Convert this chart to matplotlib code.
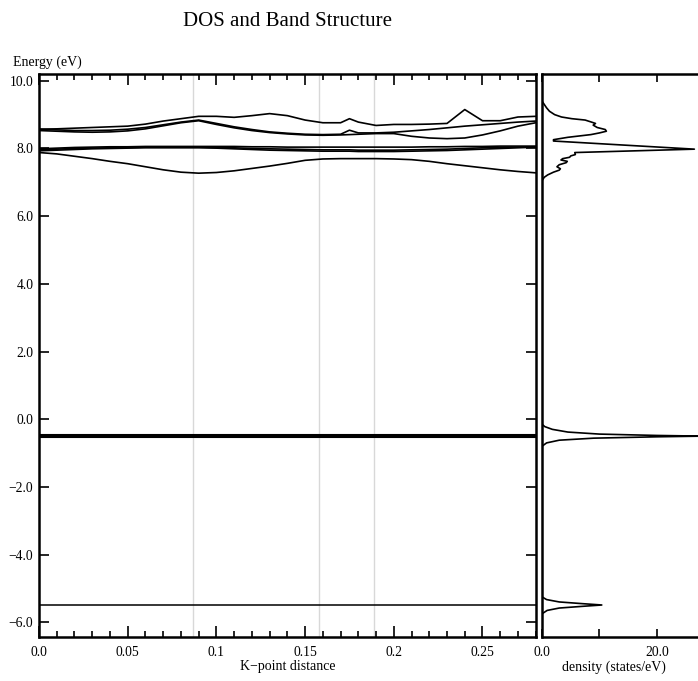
import matplotlib.pyplot as plt
import numpy as np

plt.rcParams['font.family'] = ['Liberation Serif', 'DejaVu Serif']

# k-point path (distance) and band energies in eV
k = [0.00, 0.01, 0.02, 0.03, 0.04, 0.05, 0.06, 0.07, 0.08, 0.09,
     0.10, 0.11, 0.12, 0.13, 0.14, 0.15, 0.16, 0.17, 0.175, 0.18,
     0.19, 0.20, 0.21, 0.22, 0.23, 0.24, 0.25, 0.26, 0.27, 0.28]

band_a = [8.57, 8.58, 8.60, 8.62, 8.64, 8.66, 8.72, 8.81, 8.88, 8.95,
          8.95, 8.92, 8.97, 9.03, 8.97, 8.84, 8.76, 8.76, 8.88, 8.78,
          8.68, 8.71, 8.71, 8.72, 8.74, 9.15, 8.82, 8.82, 8.93, 8.95]
band_b = [8.57, 8.55, 8.53, 8.53, 8.54, 8.57, 8.62, 8.70, 8.78, 8.84,
          8.74, 8.64, 8.56, 8.49, 8.45, 8.42, 8.41, 8.42, 8.54, 8.46,
          8.46, 8.48, 8.52, 8.56, 8.61, 8.66, 8.70, 8.74, 8.78, 8.81]
band_c = [8.53, 8.51, 8.49, 8.48, 8.49, 8.52, 8.58, 8.67, 8.76, 8.82,
          8.71, 8.61, 8.53, 8.47, 8.43, 8.40, 8.39, 8.40, 8.41, 8.42,
          8.44, 8.44, 8.36, 8.31, 8.29, 8.31, 8.40, 8.52, 8.66, 8.76]
band_d1 = [7.99, 8.01, 8.03, 8.04, 8.05, 8.05, 8.06, 8.06, 8.06, 8.06,
           8.06, 8.06, 8.05, 8.05, 8.04, 8.04, 8.04, 8.04, 8.04, 8.04,
           8.04, 8.04, 8.04, 8.05, 8.05, 8.06, 8.06, 8.07, 8.07, 8.07]
band_d2 = [7.96, 7.98, 8.00, 8.01, 8.02, 8.03, 8.04, 8.04, 8.04, 8.04,
           8.03, 8.02, 8.00, 7.99, 7.98, 7.97, 7.96, 7.96, 7.96, 7.95,
           7.95, 7.95, 7.96, 7.97, 7.98, 8.00, 8.02, 8.03, 8.04, 8.05]
band_d3 = [7.93, 7.95, 7.97, 7.99, 8.00, 8.01, 8.02, 8.02, 8.02, 8.02,
           8.01, 7.99, 7.97, 7.95, 7.94, 7.93, 7.92, 7.92, 7.92, 7.91,
           7.91, 7.91, 7.92, 7.93, 7.94, 7.96, 7.98, 8.00, 8.02, 8.04]
band_low = [7.88, 7.84, 7.77, 7.70, 7.62, 7.55, 7.46, 7.37, 7.30, 7.27,
            7.29, 7.34, 7.41, 7.48, 7.56, 7.65, 7.69, 7.70, 7.70, 7.70,
            7.70, 7.69, 7.67, 7.62, 7.55, 7.49, 7.43, 7.37, 7.32, 7.28]
flat_bands = [-0.48, -0.50, -0.52]
deep_band = -5.49

# high symmetry points (grey verticals)
sym_k = [0.087, 0.158, 0.189]

# density of states
dos_e = [10.2, 9.4, 9.3, 9.2, 9.1, 9.0, 8.93, 8.88, 8.84, 8.78,
         8.74, 8.69, 8.62, 8.56, 8.51, 8.46, 8.41, 8.33, 8.26, 8.22,
         7.98, 7.88, 7.82, 7.78, 7.74, 7.70, 7.66, 7.62, 7.58, 7.52,
         7.46, 7.40, 7.36, 7.30, 7.22, 7.15, 7.05,
         -0.15, -0.22, -0.30, -0.38, -0.44, -0.48, -0.50, -0.52, -0.56, -0.62, -0.70, -0.80,
         -5.25, -5.33, -5.40, -5.45, -5.49, -5.53, -5.58, -5.65, -5.75, -6.45]
dos_d = [0.0, 0.0, 0.4, 0.8, 1.3, 2.2, 3.4, 5.2, 7.5, 8.6,
         9.3, 8.9, 9.6, 11.0, 11.2, 10.0, 8.5, 4.5, 2.0, 2.0,
         26.5, 5.7, 5.8, 5.0, 4.8, 3.6, 3.3, 4.4, 4.2, 3.0,
         2.6, 3.2, 3.0, 2.0, 1.0, 0.4, 0.0,
         0.0, 0.5, 1.8, 4.5, 10.0, 20.0, 28.0, 20.0, 9.0, 3.0, 0.8, 0.0,
         0.0, 0.8, 3.0, 7.0, 10.4, 7.0, 3.0, 0.9, 0.0, 0.0]

xticks = [0.0, 0.05, 0.1, 0.15, 0.2, 0.25]
xticklabels = ['0.0', '0.05', '0.1', '0.15', '0.2', '0.25']
yticks = [-6, -4, -2, 0, 2, 4, 6, 8, 10]

fig = plt.figure(figsize=(6.98, 6.81), dpi=100)
ax = fig.add_axes([0.0559, 0.0639, 0.7116, 0.8274])
ax2 = fig.add_axes([0.7765, 0.0639, 0.2235, 0.8274])

for x in sym_k:
    ax.axvline(x, color='#d8d8d8', lw=1.0, zorder=1)

for b in [band_a, band_b, band_c, band_d1, band_d2, band_d3, band_low]:
    ax.plot(k, b, color='black', lw=1.2, zorder=2)
for e in flat_bands:
    ax.plot(k, [e] * len(k), color='black', lw=1.5, zorder=2)
ax.plot(k, [deep_band] * len(k), color='black', lw=1.1, zorder=2)

ax.set_xlim(0, 0.28)
ax.set_ylim(-6.45, 10.2)
ax.set_xticks(xticks)
ax.set_xticklabels(xticklabels)
ax.set_xticks(np.arange(0, 0.281, 0.01), minor=True)
ax.set_yticks(yticks)
ax.set_yticklabels([('%.1f' % y).replace('-', '\u2212') for y in yticks])
ax.tick_params(axis='both', which='both', direction='in', top=True, right=True,
               labelsize=9.8, width=1.2)
ax.tick_params(axis='x', which='major', length=8, pad=6)
ax.tick_params(axis='x', which='minor', length=4)
ax.tick_params(axis='y', which='major', length=7, pad=4)
for s in ax.spines.values():
    s.set_linewidth(1.8)

ax.set_xlabel('K\u2212point distance', fontsize=10)
ax.xaxis.set_label_coords(0.5, -0.04)

ax2.plot(dos_d, dos_e, color='black', lw=1.2)
ax2.set_ylim(-6.45, 10.2)
ax2.set_xlim(0, 27.13)
ax2.set_xticks([0, 10, 20])
ax2.set_xticklabels(['0.0', '', '20.0'])
ax2.set_yticks([])
ax2.tick_params(axis='x', direction='in', top=True, labelsize=9.8, length=6,
                width=1.2, pad=6)
for s in ax2.spines.values():
    s.set_linewidth(1.8)
ax2.spines['right'].set_visible(False)
ax2.set_xlabel('density (states/eV)', fontsize=10)
ax2.xaxis.set_label_coords(0.46, -0.04)

fig.text(0.412, 1 - 22 / 681, 'DOS and Band Structure', ha='center', va='center',
         fontsize=15)
fig.text(13 / 698, 1 - 62 / 681, 'Energy (eV)', ha='left', va='center', fontsize=10)

fig.savefig('out.png', dpi=100)
